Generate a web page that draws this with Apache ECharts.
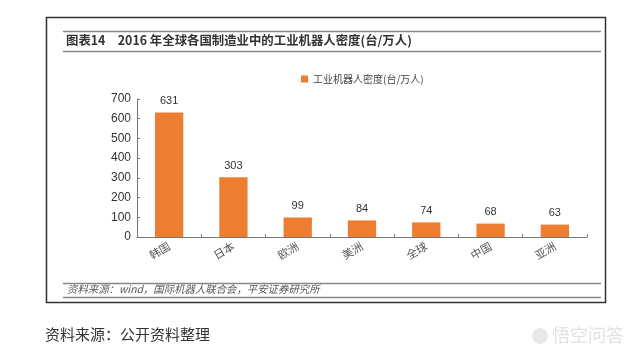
<!DOCTYPE html>
<html><head><meta charset="utf-8">
<script src="https://cdn.jsdelivr.net/npm/echarts@6/dist/echarts.min.js"></script>
<style>html,body{margin:0;padding:0;background:#fff}#c{width:640px;height:355px}</style>
</head><body><div id="c"></div>
<script>
const categories = ['韩国','日本','欧洲','美洲','全球','中国','亚洲'];
const density = [631, 303, 99, 84, 74, 68, 63];
const yTicks = [0, 100, 200, 300, 400, 500, 600, 700];
const seriesName = '工业机器人密度(台/万人)';
const titleText = '图表14　2016 年全球各国制造业中的工业机器人密度(台/万人)';
const noteText = '资料来源：wind，国际机器人联合会，平安证券研究所';
const footText = '资料来源：公开资料整理';

const chart = echarts.init(document.getElementById('c'), null, {renderer:'canvas'});
const cjk = '"Noto Sans CJK SC", "Liberation Sans", sans-serif';
chart.setOption({
  animation:false,
  backgroundColor:'#fff',
  grid:{left:137, right:53, top:99, bottom:118},
  legend:{
    top:69, left:296, itemWidth:7, itemHeight:7, itemGap:4, icon:'rect',
    textStyle:{fontFamily:cjk, fontSize:10, color:'#444'},
    data:[seriesName]
  },
  xAxis:{
    type:'category', data:categories, boundaryGap:true,
    axisLine:{lineStyle:{color:'#777', width:1}},
    axisTick:{show:true, inside:true, length:3, lineStyle:{color:'#777'}},
    axisLabel:{rotate:30, fontFamily:cjk, fontSize:11, color:'#555', margin:8}
  },
  yAxis:{
    type:'value', min:yTicks[0], max:yTicks[yTicks.length-1], interval:100,
    splitLine:{show:false},
    axisLine:{show:true, lineStyle:{color:'#777'}},
    axisTick:{show:true, inside:true, length:3, lineStyle:{color:'#777'}},
    axisLabel:{fontFamily:'"Liberation Sans", Arial, sans-serif', fontSize:12, color:'#333', margin:6}
  },
  series:[{
    name:seriesName, type:'bar', data:density, barWidth:'44%',
    itemStyle:{color:'#ED7D31'},
    label:{show:true, position:'top', distance:6, fontFamily:'"Liberation Sans", Arial, sans-serif', fontSize:11, color:'#333'}
  }],
  graphic:[
    {type:'rect', shape:{x:46.5, y:17.5, width:559, height:285}, style:{fill:null, stroke:'#333', lineWidth:1.5}, z:-1},
    {type:'line', shape:{x1:63, y1:31.5, x2:601, y2:31.5}, style:{stroke:'#888', lineWidth:1.5}},
    {type:'line', shape:{x1:63, y1:51.5, x2:601, y2:51.5}, style:{stroke:'#888', lineWidth:1.5}},
    {type:'text', left:66, top:34, style:{text:titleText, font:'bold 12.4px "Noto Sans CJK SC", sans-serif', fill:'#333'}},
    {type:'line', shape:{x1:63, y1:283.5, x2:601, y2:283.5}, style:{stroke:'#888', lineWidth:1.5}},
    {type:'line', shape:{x1:63, y1:297.5, x2:601, y2:297.5}, style:{stroke:'#888', lineWidth:1.5}},
    {type:'text', left:67, top:284, style:{text:noteText, font:'italic 10.4px "Noto Sans CJK SC", sans-serif', fill:'#555'}},
    {type:'text', left:45, top:327, style:{text:footText, font:'15px "Noto Sans CJK SC", sans-serif', fill:'#333'}},
    {type:'circle', shape:{cx:540, cy:336, r:8}, style:{fill:'#e8e8e8'}},
    {type:'text', left:552, top:326, style:{text:'悟空问答', font:'18px "Noto Sans CJK SC", sans-serif', fill:'#e2e2e2'}}
  ]
});
</script></body></html>
